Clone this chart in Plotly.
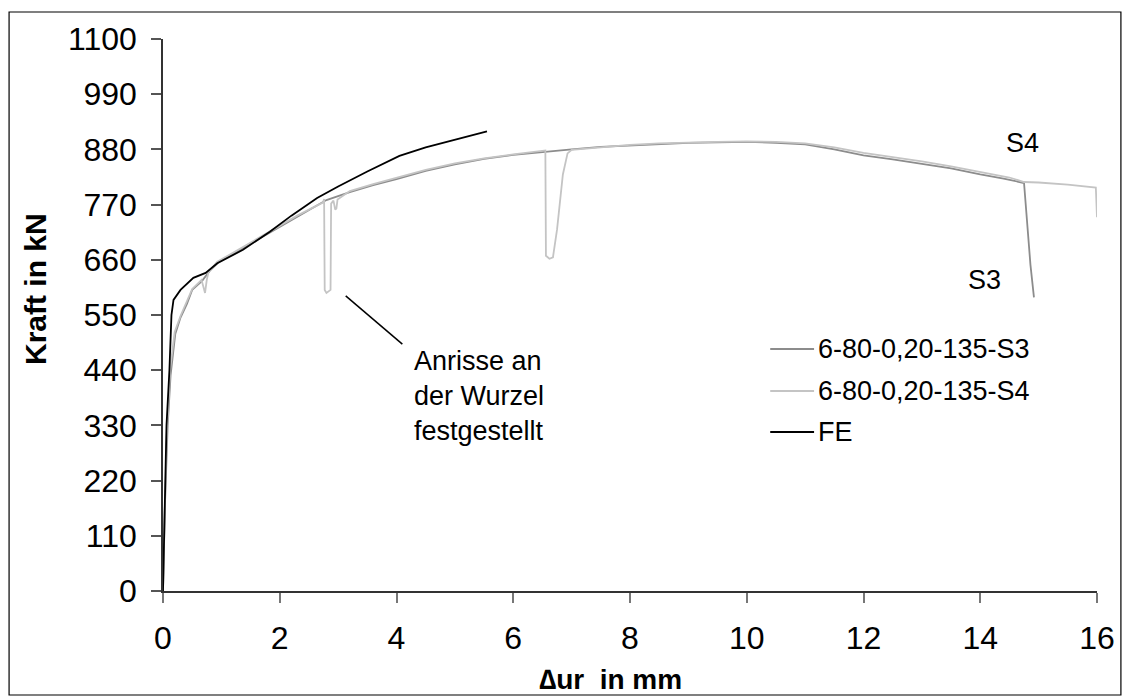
import plotly.graph_objects as go

# Load-displacement curves (displacement in mm, force in kN)
fe_x = [0, 0.03, 0.06, 0.11, 0.145, 0.18, 0.30, 0.52, 0.73, 0.93, 1.37, 1.83, 2.2, 2.64, 3.0, 3.5, 4.05, 4.5, 5.0, 5.3, 5.55]
fe_y = [0, 150, 330, 440, 550, 580, 600, 624, 634, 653, 680, 716, 748, 783, 806, 836, 867, 884, 899, 908, 916]

s3_x = [0, 0.03, 0.08, 0.13, 0.21, 0.30, 0.41, 0.50, 0.67, 0.80, 0.95, 1.5, 1.9, 2.4, 2.8, 3.2, 3.6, 4.0, 4.5, 5.0, 5.5, 6.0, 6.5, 7.0,
        7.5, 8.0, 8.5, 9.0, 9.5, 10.0, 10.5, 11.0, 11.5, 12.0, 12.5, 13.0, 13.5, 14.0, 14.4, 14.75, 14.8, 14.86, 14.92]
s3_y = [0, 160, 330, 430, 512, 545, 572, 600, 618, 638, 655, 692, 718, 752, 779, 795, 809, 821, 837, 850, 861, 869, 875, 880,
        885, 888, 890, 893, 894, 895, 893, 890, 880, 868, 860, 851, 842, 830, 822, 813, 740, 650, 585]

s4_x = [0, 0.02, 0.06, 0.12, 0.20, 0.30, 0.40, 0.50, 0.66, 0.70, 0.72, 0.75, 0.78, 0.93, 1.5, 1.9, 2.3, 2.6, 2.74, 2.76, 2.77,
        2.80, 2.87, 2.88, 2.92, 2.95, 2.97, 2.99, 3.2, 3.6, 4.0, 4.5, 5.0, 5.5, 6.0, 6.4, 6.55, 6.56, 6.62, 6.68, 6.75, 6.85,
        6.93, 7.0, 7.5, 8.0, 8.5, 9.0, 9.5, 10.0, 10.5, 11.0, 11.5, 12.0, 12.5, 13.0, 13.5, 14.0, 14.5, 14.75, 15.0, 15.5,
        15.98, 16.0]
s4_y = [0, 120, 300, 440, 516, 548, 576, 602, 620, 598, 594, 620, 636, 656, 694, 720, 748, 766, 774, 781, 600,
        594, 600, 772, 778, 760, 762, 780, 797, 811, 823, 839, 852, 862, 870, 875, 878, 668, 662, 665, 720, 830,
        872, 879, 884, 889, 892, 894, 895, 896, 895, 892, 884, 873, 865, 856, 846, 835, 824, 815, 814, 810,
        804, 745]

series_names = ["6-80-0,20-135-S3", "6-80-0,20-135-S4", "FE"]
series_colors = ["#8c8c8c", "#c4c4c4", "#000000"]

FONT = "Liberation Sans, Arial, sans-serif"

fig = go.Figure()
for xs, ys, name, color in [(s3_x, s3_y, series_names[0], series_colors[0]),
                            (s4_x, s4_y, series_names[1], series_colors[1]),
                            (fe_x, fe_y, series_names[2], series_colors[2])]:
    fig.add_trace(go.Scatter(x=xs, y=ys, mode="lines", name=name,
                             line=dict(color=color, width=1.8), showlegend=False))

# Plot-area geometry in pixels, used for items placed in paper coordinates
W, H = 1127, 697
L, R, T, B = 162.5, 1100, 39, 591


def px(x):
    return (x - L) / (R - L)


def py(y):
    return (B - y) / (B - T)


shapes = [
    # outer frame
    dict(type="rect", xref="paper", yref="paper", x0=px(8), x1=px(1124), y0=py(695), y1=py(12),
         line=dict(color="black", width=1.2)),
    # leader line for the crack note
    dict(type="line", xref="x", yref="y", x0=3.13, y0=588, x1=4.10, y1=492,
         line=dict(color="black", width=1.5)),
]

annotations = [
    dict(x=4.27, y=492, xref="x", yref="y", xanchor="left", yanchor="top", align="left",
         text="Anrisse an<br>der Wurzel<br>festgestellt", showarrow=False,
         font=dict(family=FONT, size=27, color="black")),
    dict(x=14.72, y=893, xref="x", yref="y", text="S4", showarrow=False,
         xanchor="center", yanchor="middle",
         font=dict(family=FONT, size=27, color="black")),
    dict(x=14.07, y=620, xref="x", yref="y", text="S3", showarrow=False,
         xanchor="center", yanchor="middle",
         font=dict(family=FONT, size=27, color="black")),
    # axis titles
    dict(x=px(34), y=py(289), xref="paper", yref="paper", text="<b>Kraft in kN</b>", textangle=-90,
         xanchor="center", yanchor="middle",
         showarrow=False, font=dict(family=FONT, size=30, color="black")),
    dict(x=px(612), y=py(679), xref="paper", yref="paper", text="<b>\u2206ur  in mm</b>",
         xanchor="center", yanchor="middle",
         showarrow=False, font=dict(family=FONT, size=28, color="black")),
]

# Legend drawn as line samples with labels
legend_rows = [349, 391, 432]
for name, color, row in zip(series_names, series_colors, legend_rows):
    shapes.append(dict(type="line", xref="paper", yref="paper", x0=px(772), x1=px(816),
                       y0=py(row), y1=py(row), line=dict(color=color, width=1.8)))
    annotations.append(dict(x=px(818), y=py(row), xref="paper", yref="paper", xanchor="left",
                            yanchor="middle", text=name, showarrow=False,
                            font=dict(family=FONT, size=27, color="black")))

fig.update_layout(
    width=W, height=H,
    margin=dict(l=L, r=W - R, t=T, b=H - B),
    paper_bgcolor="white", plot_bgcolor="white",
    font=dict(family=FONT, color="black"),
    shapes=shapes, annotations=annotations,
    showlegend=False,
)
fig.update_xaxes(range=[0, 16], dtick=2, tick0=0, showgrid=False, zeroline=False,
                 showline=True, linecolor="#333333", linewidth=1.5,
                 ticks="outside", ticklen=10, tickcolor="#777777", tickwidth=1.5,
                 tickfont=dict(family=FONT, size=32, color="black"), ticklabelstandoff=8)
fig.update_yaxes(range=[0, 1100], dtick=110, tick0=0, showgrid=False, zeroline=False,
                 showline=True, linecolor="#333333", linewidth=1.5,
                 ticks="outside", ticklen=10, tickcolor="#555555", tickwidth=1.5,
                 tickfont=dict(family=FONT, size=32, color="black"), ticklabelstandoff=8)

fig.write_html("out.html")
